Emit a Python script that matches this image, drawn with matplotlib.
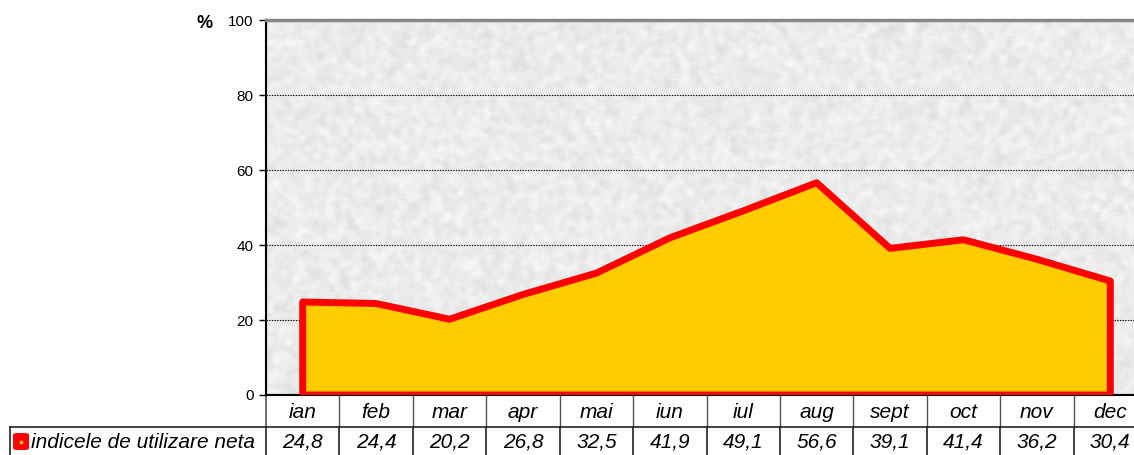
import matplotlib.pyplot as plt
import matplotlib.transforms as mtransforms
from matplotlib.lines import Line2D
from matplotlib.patches import FancyBboxPatch
import numpy as np

months = ['ian', 'feb', 'mar', 'apr', 'mai', 'iun', 'iul', 'aug', 'sept', 'oct', 'nov', 'dec']
values = [24.8, 24.4, 20.2, 26.8, 32.5, 41.9, 49.1, 56.6, 39.1, 41.4, 36.2, 30.4]
series_name = 'indicele de utilizare neta'
yticks = [0, 20, 40, 60, 80, 100]

plt.rcParams['font.family'] = ['Liberation Sans', 'DejaVu Sans']

W, H = 1134, 455
fig = plt.figure(figsize=(W / 100, H / 100), dpi=100)
# plot area runs a bit past the right edge, as in the original
ax = fig.add_axes([266 / W, (H - 395) / H, 881 / W, 375 / H])

# light grey speckled texture behind the plot
rng = np.random.default_rng(3)
noise = rng.random((160, 380))
k = np.ones(3) / 3
noise = np.apply_along_axis(lambda r: np.convolve(r, k, mode='same'), 1, noise)
noise = np.apply_along_axis(lambda c: np.convolve(c, k, mode='same'), 0, noise)
noise = (noise - noise.min()) / (noise.max() - noise.min())
ax.imshow(noise, cmap='gray', vmin=-6.0, vmax=1.1, extent=(-0.5, 11.5, 0, 100),
          aspect='auto', interpolation='bilinear', zorder=0)

x = np.arange(len(months))
px = np.concatenate([[x[0]], x, [x[-1]]])
py = np.concatenate([[0], values, [0]])
ax.fill(px, py, facecolor='#ffcc00', edgecolor='#ff0000', linewidth=5,
        joinstyle='round', zorder=3)

for yv in yticks[1:-1]:
    ax.axhline(yv, color='black', linestyle=(0, (1.2, 1.2)), linewidth=0.8, zorder=2)

ax.set_xlim(-0.5, 11.5)
ax.set_ylim(0, 100)
ax.set_yticks(yticks)
ax.set_xticks([])
ax.tick_params(axis='y', length=5, width=1, labelsize=11, pad=4)
ax.spines['right'].set_visible(False)
ax.spines['bottom'].set_linewidth(1.5)
ax.spines['left'].set_linewidth(1.5)
ax.spines['top'].set_color('#888888')
ax.spines['top'].set_linewidth(2.5)

fig.text(205 / W, (H - 23) / H, '%', fontsize=13, fontweight='bold', ha='center', va='center')

# data table under the chart
tr = mtransforms.blended_transform_factory(ax.transData, fig.transFigure)
y_top = (H - 396) / H
y_mid = (H - 427) / H
y_bot = -0.01
for i in range(len(months) + 1):
    xb = i - 0.5
    ax.add_line(Line2D([xb, xb], [y_top, y_mid], transform=tr, color='#555555',
                       linewidth=1.2 if i == 0 else 1, clip_on=False))
    ax.add_line(Line2D([xb, xb], [y_mid, y_bot], transform=tr, color='#222222',
                       linewidth=1.2, clip_on=False))
for i, (m, v) in enumerate(zip(months, values)):
    ax.text(i, (H - 412) / H, m, transform=tr, ha='center', va='center',
            fontsize=15, style='italic', clip_on=False)
    ax.text(i, (H - 442) / H, f'{v:.1f}'.replace('.', ','), transform=tr,
            ha='center', va='center', fontsize=15, style='italic', clip_on=False)

fig.add_artist(Line2D([10 / W, 1.0], [y_mid, y_mid], transform=fig.transFigure,
                      color='#222222', linewidth=1.2))
fig.add_artist(Line2D([10 / W, 10 / W], [y_mid, y_bot], transform=fig.transFigure,
                      color='#222222', linewidth=1.2))

fig.add_artist(FancyBboxPatch((13 / W, (H - 450) / H), 16 / W, 17 / H,
                              boxstyle='round,pad=0,rounding_size=0.004',
                              transform=fig.transFigure, facecolor='#ff0000',
                              edgecolor='none'))
fig.add_artist(Line2D([21 / W], [(H - 441.5) / H], transform=fig.transFigure,
                      marker='s', markersize=2, color='#ffcc00', linestyle='none'))
fig.text(31 / W, (H - 442) / H, series_name, fontsize=15, style='italic',
         ha='left', va='center')

fig.savefig('out.png', dpi=100)
